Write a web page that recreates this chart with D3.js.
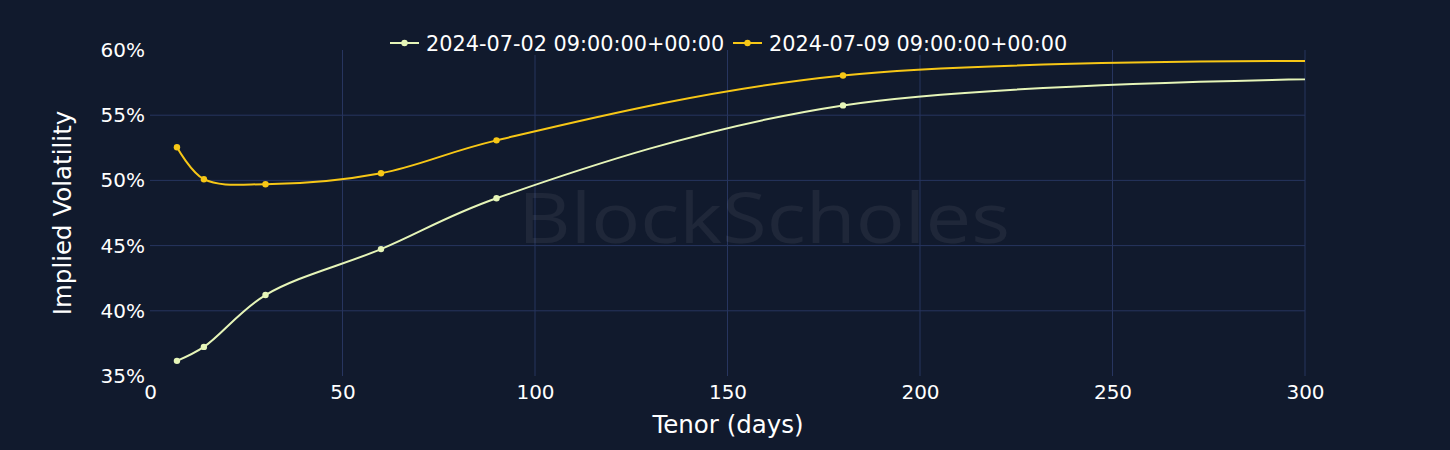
<!DOCTYPE html>
<html><head><meta charset="utf-8">
<script src="https://cdn.jsdelivr.net/npm/d3@7"></script>
<style>
html,body{margin:0;padding:0;background:#111a2d;}
svg{display:block;}
</style></head>
<body><svg id="c" width="1450" height="450"></svg>
<script>
const tenors = [7, 14, 30, 60, 90, 180, 365];
const seriesNames = ["2024-07-02 09:00:00+00:00", "2024-07-09 09:00:00+00:00"];
const ivJul02 = [36.16, 37.23, 41.21, 44.73, 48.63, 55.75, 57.95];
const ivJul09 = [52.54, 50.09, 49.71, 50.55, 53.07, 58.05, 59.1];
const seriesColors = ["#e6f5b8", "#f7c716"];
const xTicks = [0, 50, 100, 150, 200, 250, 300];
const yTicks = [35, 40, 45, 50, 55, 60];

const svg = d3.select("#c");
const W = 1450, H = 450;
const m = {l:150, r:145, t:50, b:74};
const x = d3.scaleLinear().domain([0,300]).range([m.l, W-m.r]);
const y = d3.scaleLinear().domain([35,60]).range([H-m.b, m.t]);
const font = "'DejaVu Sans', Verdana, sans-serif";

svg.append("rect").attr("width",W).attr("height",H).attr("fill","#111a2d");

// grid
svg.append("g").selectAll("line").data(xTicks.filter(d=>d>0)).join("line")
  .attr("x1",d=>x(d)).attr("x2",d=>x(d)).attr("y1",m.t).attr("y2",H-m.b)
  .attr("stroke","#27355f").attr("stroke-width",1);
svg.append("g").selectAll("line").data(yTicks.filter(d=>d>35 && d<60)).join("line")
  .attr("x1",m.l).attr("x2",W-m.r).attr("y1",d=>y(d)).attr("y2",d=>y(d))
  .attr("stroke","#27355f").attr("stroke-width",1);

// watermark
svg.append("text").attr("x",518).attr("y",243)
  .attr("font-family","'Open Sans', Lato, sans-serif").attr("font-size",70)
  .attr("textLength",492).attr("lengthAdjust","spacingAndGlyphs")
  .attr("fill","#ffffff").attr("fill-opacity",0.06).text("BlockScholes");

// axes
const xAxis = svg.append("g").attr("transform",`translate(0,${H-m.b})`)
  .call(d3.axisBottom(x).tickValues(xTicks).tickSize(0).tickPadding(9));
xAxis.select(".domain").remove();
xAxis.selectAll("text").attr("fill","#ffffff").attr("font-size",20).attr("font-family",font);
const yAxis = svg.append("g").attr("transform",`translate(${m.l},0)`)
  .call(d3.axisLeft(y).tickValues(yTicks).tickFormat(d=>d+"%").tickSize(0).tickPadding(5));
yAxis.select(".domain").remove();
yAxis.selectAll("text").attr("fill","#ffffff").attr("font-size",20).attr("font-family",font);

svg.append("text").attr("x",728).attr("y",433).attr("text-anchor","middle")
  .attr("fill","#fff").attr("font-size",24.5).attr("font-family",font).text("Tenor (days)");
svg.append("text").attr("transform","translate(71,213) rotate(-90)").attr("text-anchor","middle")
  .attr("fill","#fff").attr("font-size",24.5).attr("font-family",font).text("Implied Volatility");

// clip
svg.append("clipPath").attr("id","clip").append("rect")
  .attr("x",m.l).attr("y",m.t-5).attr("width",W-m.l-m.r).attr("height",H-m.t-m.b+10);

const line = d3.line().x(d=>x(d[0])).y(d=>y(d[1])).curve(d3.curveCatmullRom.alpha(0.5));
const data = [ivJul02, ivJul09];
const g = svg.append("g").attr("clip-path","url(#clip)");
data.forEach((vals,i)=>{
  const pts = tenors.map((t,j)=>[t, vals[j]]);
  g.append("path").attr("d",line(pts)).attr("fill","none")
    .attr("stroke",seriesColors[i]).attr("stroke-width",2);
  g.selectAll(null).data(pts.filter(p=>p[0]<=300)).join("circle")
    .attr("cx",d=>x(d[0])).attr("cy",d=>y(d[1])).attr("r",3.2).attr("fill",seriesColors[i]);
});

// legend
const legX = [390, 733];
seriesNames.forEach((name,i)=>{
  const lg = svg.append("g").attr("transform",`translate(${legX[i]},43)`);
  lg.append("rect").attr("x",-4).attr("y",-14).attr("width",340).attr("height",26).attr("fill","#111a2d");
  lg.append("line").attr("x1",0).attr("x2",29).attr("y1",0).attr("y2",0)
    .attr("stroke",seriesColors[i]).attr("stroke-width",2);
  lg.append("circle").attr("cx",14.5).attr("cy",0).attr("r",3.2).attr("fill",seriesColors[i]);
  lg.append("text").attr("x",36).attr("y",7.5).attr("fill","#fff").attr("font-size",20.8)
    .attr("font-family",font).text(name);
});
</script></body></html>
